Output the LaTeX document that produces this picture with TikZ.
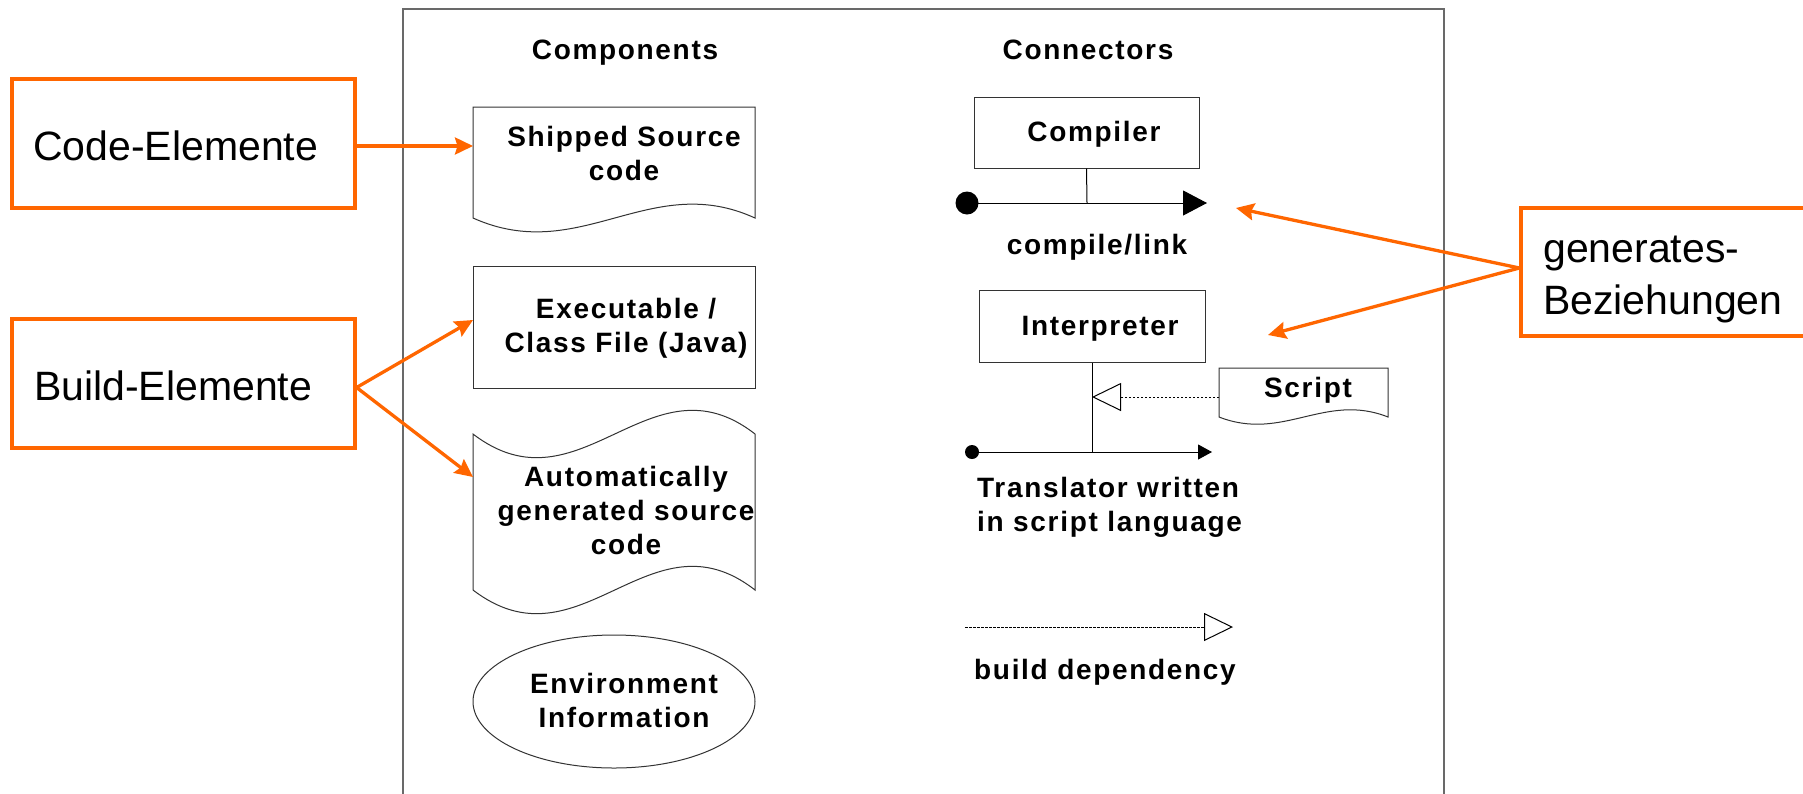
\documentclass[tikz,border=0pt]{standalone}
\usepackage{fontspec}
\usetikzlibrary{arrows.meta,shapes.geometric}
\newfontfamily\lblfont{Liberation Sans}[LetterSpace=6]
\newfontfamily\orfont{Liberation Sans}
\definecolor{orng}{RGB}{255,102,0}
\definecolor{framegray}{RGB}{105,105,105}
\begin{document}
\begin{tikzpicture}[x=1pt,y=-1pt,
  txt/.style={font=\lblfont\bfseries\fontsize{28}{34}\selectfont, inner sep=0pt, align=center},
  otxt/.style={font=\orfont\fontsize{41}{52}\selectfont, inner sep=0pt, align=left},
  obox/.style={draw=orng, line width=3.2pt, inner sep=0pt},
  oarrow/.style={draw=orng, line width=3.3pt, -{Stealth[length=18pt,width=17pt,inset=2.5pt]}},
  thinline/.style={draw=black, line width=1pt},
  shapebox/.style={draw=black!80, line width=1pt, inner sep=0pt},
  dsh/.style={draw=black, line width=0.9pt, dash pattern=on 2.5pt off 1.5pt},
  opentip/.style={-{Triangle[open,length=29pt,width=28pt,line width=1pt]}}
]
\useasboundingbox (0,0) rectangle (1803,793);
\fill[white] (0,0) rectangle (1803,793);

% main frame
\draw[framegray, line width=1.5pt] (403,840) -- (403,9) -- (1444,9) -- (1444,840);

% headers
\node[txt, anchor=base] (hcomp) at (625,59) {Components};
\node[txt, anchor=base] (hconn) at (1088,59) {Connectors};

% Shipped source code (document shape)
\draw[shapebox, fill=white] (473,218) -- (473,107) -- (755,107) -- (755,218)
  .. controls (650,170) and (580,266) .. (473,218) -- cycle;
\coordinate (shipL) at (473,146);
\node[txt] (shipt) at (624,153) {Shipped Source\\code};

% Executable box
\node[shapebox, minimum width=282pt, minimum height=122pt] (exe) at (614,327) {};
\coordinate (exeL) at (473,320);
\node[txt] (exet) at (626,328) {Executable /\\Class File (Java)};

% Automatically generated source code
\draw[shapebox, fill=white] (473,434) .. controls (580,516) and (650,352) .. (755,434)
  -- (755,590) .. controls (650,508) and (580,672) .. (473,590) -- cycle;
\coordinate (autoL) at (473,477);
\node[txt] (autot) at (626,510) {Automatically\\generated source\\code};

% Environment information
\node[shapebox, ellipse, minimum width=282pt, minimum height=133pt] (env) at (614,701.5) {};
\node[txt] (envt) at (624,700) {Environment\\Information};

% Compiler connector
\node[shapebox, minimum width=225pt, minimum height=71pt] (comp) at (1086.5,132.5) {};
\node[txt, anchor=base] (compt) at (1094,141) {Compiler};
\coordinate (c1) at (967,203);
\coordinate (c2) at (1207,203);
\coordinate (cj) at (1087,203);
\draw[thinline] (comp.south) -- (cj);
\draw[thinline, -{Triangle[length=24pt,width=25pt]}] (c1) -- (c2);
\fill (c1) circle (11.5pt);
\node[txt, anchor=base] (compl) at (1097,254) {compile/link};

% Interpreter connector
\node[shapebox, minimum width=226pt, minimum height=72pt] (interp) at (1092,326) {};
\node[txt, anchor=base] (interpt) at (1100,335) {Interpreter};
\coordinate (i1) at (972,452);
\coordinate (i2) at (1212,452);
\coordinate (ij) at (1092,452);
\draw[thinline] (interp.south) -- (ij);
\draw[thinline, -{Triangle[length=14pt,width=15pt]}] (i1) -- (i2);
\fill (i1) circle (7pt);

% Script document
\draw[shapebox, fill=white] (1219,417) -- (1219,368) -- (1388,368) -- (1388,417)
  .. controls (1325,392) and (1283,442) .. (1219,417) -- cycle;
\node[txt, anchor=base] (scriptt) at (1308,397) {Script};
\coordinate (sl) at (1219,397);
\coordinate (sj) at (1092,397);
\draw[dsh, opentip] (sl) -- (sj);

\node[txt, anchor=west, align=left] (transt) at (977,507) {Translator written\\in script language};

% build dependency legend
\coordinate (bd1) at (965,627);
\coordinate (bd2) at (1233,627);
\draw[dsh, opentip] (bd1) -- (bd2);
\node[txt, anchor=base west] (bdt) at (974,679) {build dependency};

% orange annotation boxes
\node[obox, minimum width=343pt, minimum height=129pt] (code) at (183.5,143.5) {};
\node[otxt, anchor=base west] (codet) at (33,160) {Code-Elemente};
\node[obox, minimum width=343pt, minimum height=129pt] (build) at (183.5,383.5) {};
\node[otxt, anchor=base west] (buildt) at (34,400) {Build-Elemente};
\node[obox, fill=white, minimum width=340pt, minimum height=128pt] (gen) at (1691,272) {};
\node[otxt, anchor=west] (gent) at (1543,279) {generates-\\Beziehungen};

\coordinate (g1) at (1236,208);
\coordinate (g2) at (1268,335);

% orange arrows
\draw[oarrow] (code.east |- shipL) -- (shipL);
\draw[oarrow] ([yshift=-4pt]build.east) -- (exeL);
\draw[oarrow] ([yshift=-4pt]build.east) -- (autoL);
\draw[oarrow] ([yshift=4pt]gen.west) -- (g1);
\draw[oarrow] ([yshift=4pt]gen.west) -- (g2);
\end{tikzpicture}
\end{document}
